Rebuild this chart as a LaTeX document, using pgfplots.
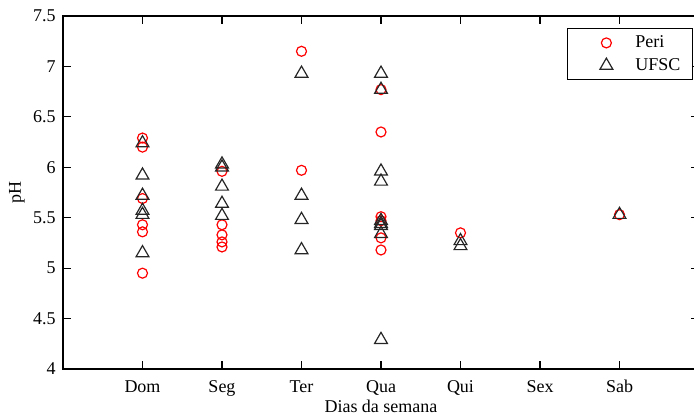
\documentclass[border=0pt]{standalone}
\usepackage{pgfplots}
\pgfplotsset{compat=1.18}
\usepackage{fontspec}
\setmainfont{Liberation Serif}
\pgfplotsset{mylegend/.style={legend image code/.code={\path[draw=none,fill=none] (0pt,-1pt) rectangle (28pt,1pt); \draw[mark repeat=2,mark phase=2,##1] plot coordinates {(0pt,0pt) (15.5pt,0pt) (28pt,0pt)};}}}
\begin{document}
\fontsize{9}{11}\selectfont
\begin{tikzpicture}
\useasboundingbox (-31.5pt,-23pt) rectangle (315.5pt,184.5pt);
\begin{axis}[
  at={(0,0)}, anchor=south west,
  scale only axis,
  width=318pt, height=176.5pt,
  xmin=0, xmax=8, ymin=4, ymax=7.5,
  xtick={1,2,3,4,5,6,7},
  xticklabels={Dom,Seg,Ter,Qua,Qui,Sex,Sab},
  ytick={4,4.5,5,5.5,6,6.5,7,7.5},
  yticklabel style={/pgf/number format/assume math mode=true, font=\fontsize{9}{11}\selectfont, inner sep=1pt, xshift=-2.5pt},
  xticklabel style={font=\fontsize{9}{11}\selectfont, yshift=-2.5pt},
  tick align=inside, major tick length=4pt,
  axis line style={line width=0.8pt},
  every tick/.style={line width=0.6pt, black},
  xlabel={Dias da semana}, ylabel={pH},
  xlabel style={font=\fontsize{9}{11}\selectfont, at={(axis description cs:0.5,-0.1246)}, anchor=base},
  ylabel style={font=\fontsize{9}{11}\selectfont, at={(axis description cs:-0.0723,0.5)}, anchor=center},
  legend style={at={(rel axis cs:0.9906,0.966)}, anchor=north east, draw=black, line width=0.6pt,
    font=\fontsize{9}{11}\selectfont, inner xsep=4pt, inner ysep=1.5pt, row sep=0pt,
    cells={anchor=west, inner ysep=2.6pt}},
  legend cell align=left,
]
\addplot[only marks, mylegend, mark=o, color=red, mark size=2.5pt, line width=0.6pt] table {
x y
1 6.29
1 6.20
1 5.69
1 5.43
1 5.36
1 4.95
2 5.96
2 5.43
2 5.33
2 5.26
2 5.21
3 7.15
3 5.97
4 6.77
4 6.35
4 5.51
4 5.47
4 5.30
4 5.18
5 5.35
7 5.53
};
\addlegendentry{Peri}
\addplot[only marks, mylegend, mark=triangle, color=black!85, mark size=3.7pt, line width=0.6pt] table {
x y
1 6.24
1 5.92
1 5.72
1 5.57
1 5.53
1 5.15
2 6.03
2 6.00
2 5.81
2 5.64
2 5.52
3 6.93
3 5.72
3 5.48
3 5.18
4 6.93
4 6.77
4 5.96
4 5.86
4 5.47
4 5.44
4 5.42
4 5.34
4 4.29
5 5.27
5 5.22
7 5.53
};
\addlegendentry{UFSC}
\end{axis}
\end{tikzpicture}
\end{document}
